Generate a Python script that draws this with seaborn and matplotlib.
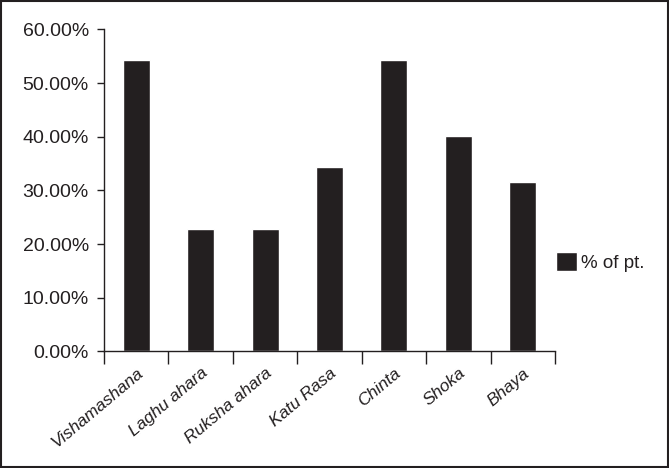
import matplotlib
matplotlib.use("Agg")
import matplotlib.pyplot as plt
import seaborn as sns
import pandas as pd
from matplotlib.patches import Rectangle
from matplotlib.ticker import FuncFormatter

# Causes (nidana) and share of patients
causes = ["Vishamashana", "Laghu ahara", "Ruksha ahara", "Katu Rasa", "Chinta", "Shoka", "Bhaya"]
pct_of_pt = [54.4, 22.9, 22.9, 34.4, 54.4, 40.1, 31.5]
y_ticks = [0, 10, 20, 30, 40, 50, 60]

ink = "#231f20"

sns.set_style("ticks")
plt.rcParams["font.family"] = ["Liberation Sans", "DejaVu Sans"]
plt.rcParams["text.color"] = ink

df = pd.DataFrame({"cause": causes, "pct": pct_of_pt, "series": "% of pt."})

fig = plt.figure(figsize=(6.69, 4.68), dpi=100)
ax = fig.add_axes([0.1555, 0.249, 0.674, 0.688])

sns.barplot(data=df, x="cause", y="pct", hue="series", palette=[ink],
            width=0.42, saturation=1, ax=ax)

ax.set_ylim(0, 60)
ax.set_xlim(-0.5, len(causes) - 0.5)
ax.set_yticks(y_ticks)
ax.yaxis.set_major_formatter(FuncFormatter(lambda v, p: f"{v:.2f}%"))
ax.tick_params(axis="y", labelsize=14, length=5, width=1, color=ink,
               labelcolor=ink, pad=6)

# ticks between categories, labels at the centres
ax.set_xticks([i - 0.5 for i in range(len(causes) + 1)])
ax.set_xticklabels([])
ax.tick_params(axis="x", which="major", length=9, width=1, color=ink)
ax.set_xticks(range(len(causes)), minor=True)
ax.set_xticklabels(causes, minor=True, rotation=40, ha="right",
                   rotation_mode="anchor", fontsize=12.5, style="italic", color=ink)
ax.tick_params(axis="x", which="minor", length=0, pad=10)

ax.set_xlabel("")
ax.set_ylabel("")
sns.despine(ax=ax)
for s in ["left", "bottom"]:
    ax.spines[s].set_color(ink)
    ax.spines[s].set_linewidth(1)

ax.legend(loc="center left", bbox_to_anchor=(1.0, 0.278), frameon=False,
          fontsize=13.5, handlelength=1.15, handleheight=1.15, handletextpad=0.2,
          borderaxespad=0, borderpad=0.05)

# outer frame
fig.patches.append(Rectangle((0.002, 0.002), 0.996, 0.996, transform=fig.transFigure,
                             fill=False, edgecolor=ink, linewidth=1.5))

fig.savefig("out.png", dpi=100)
